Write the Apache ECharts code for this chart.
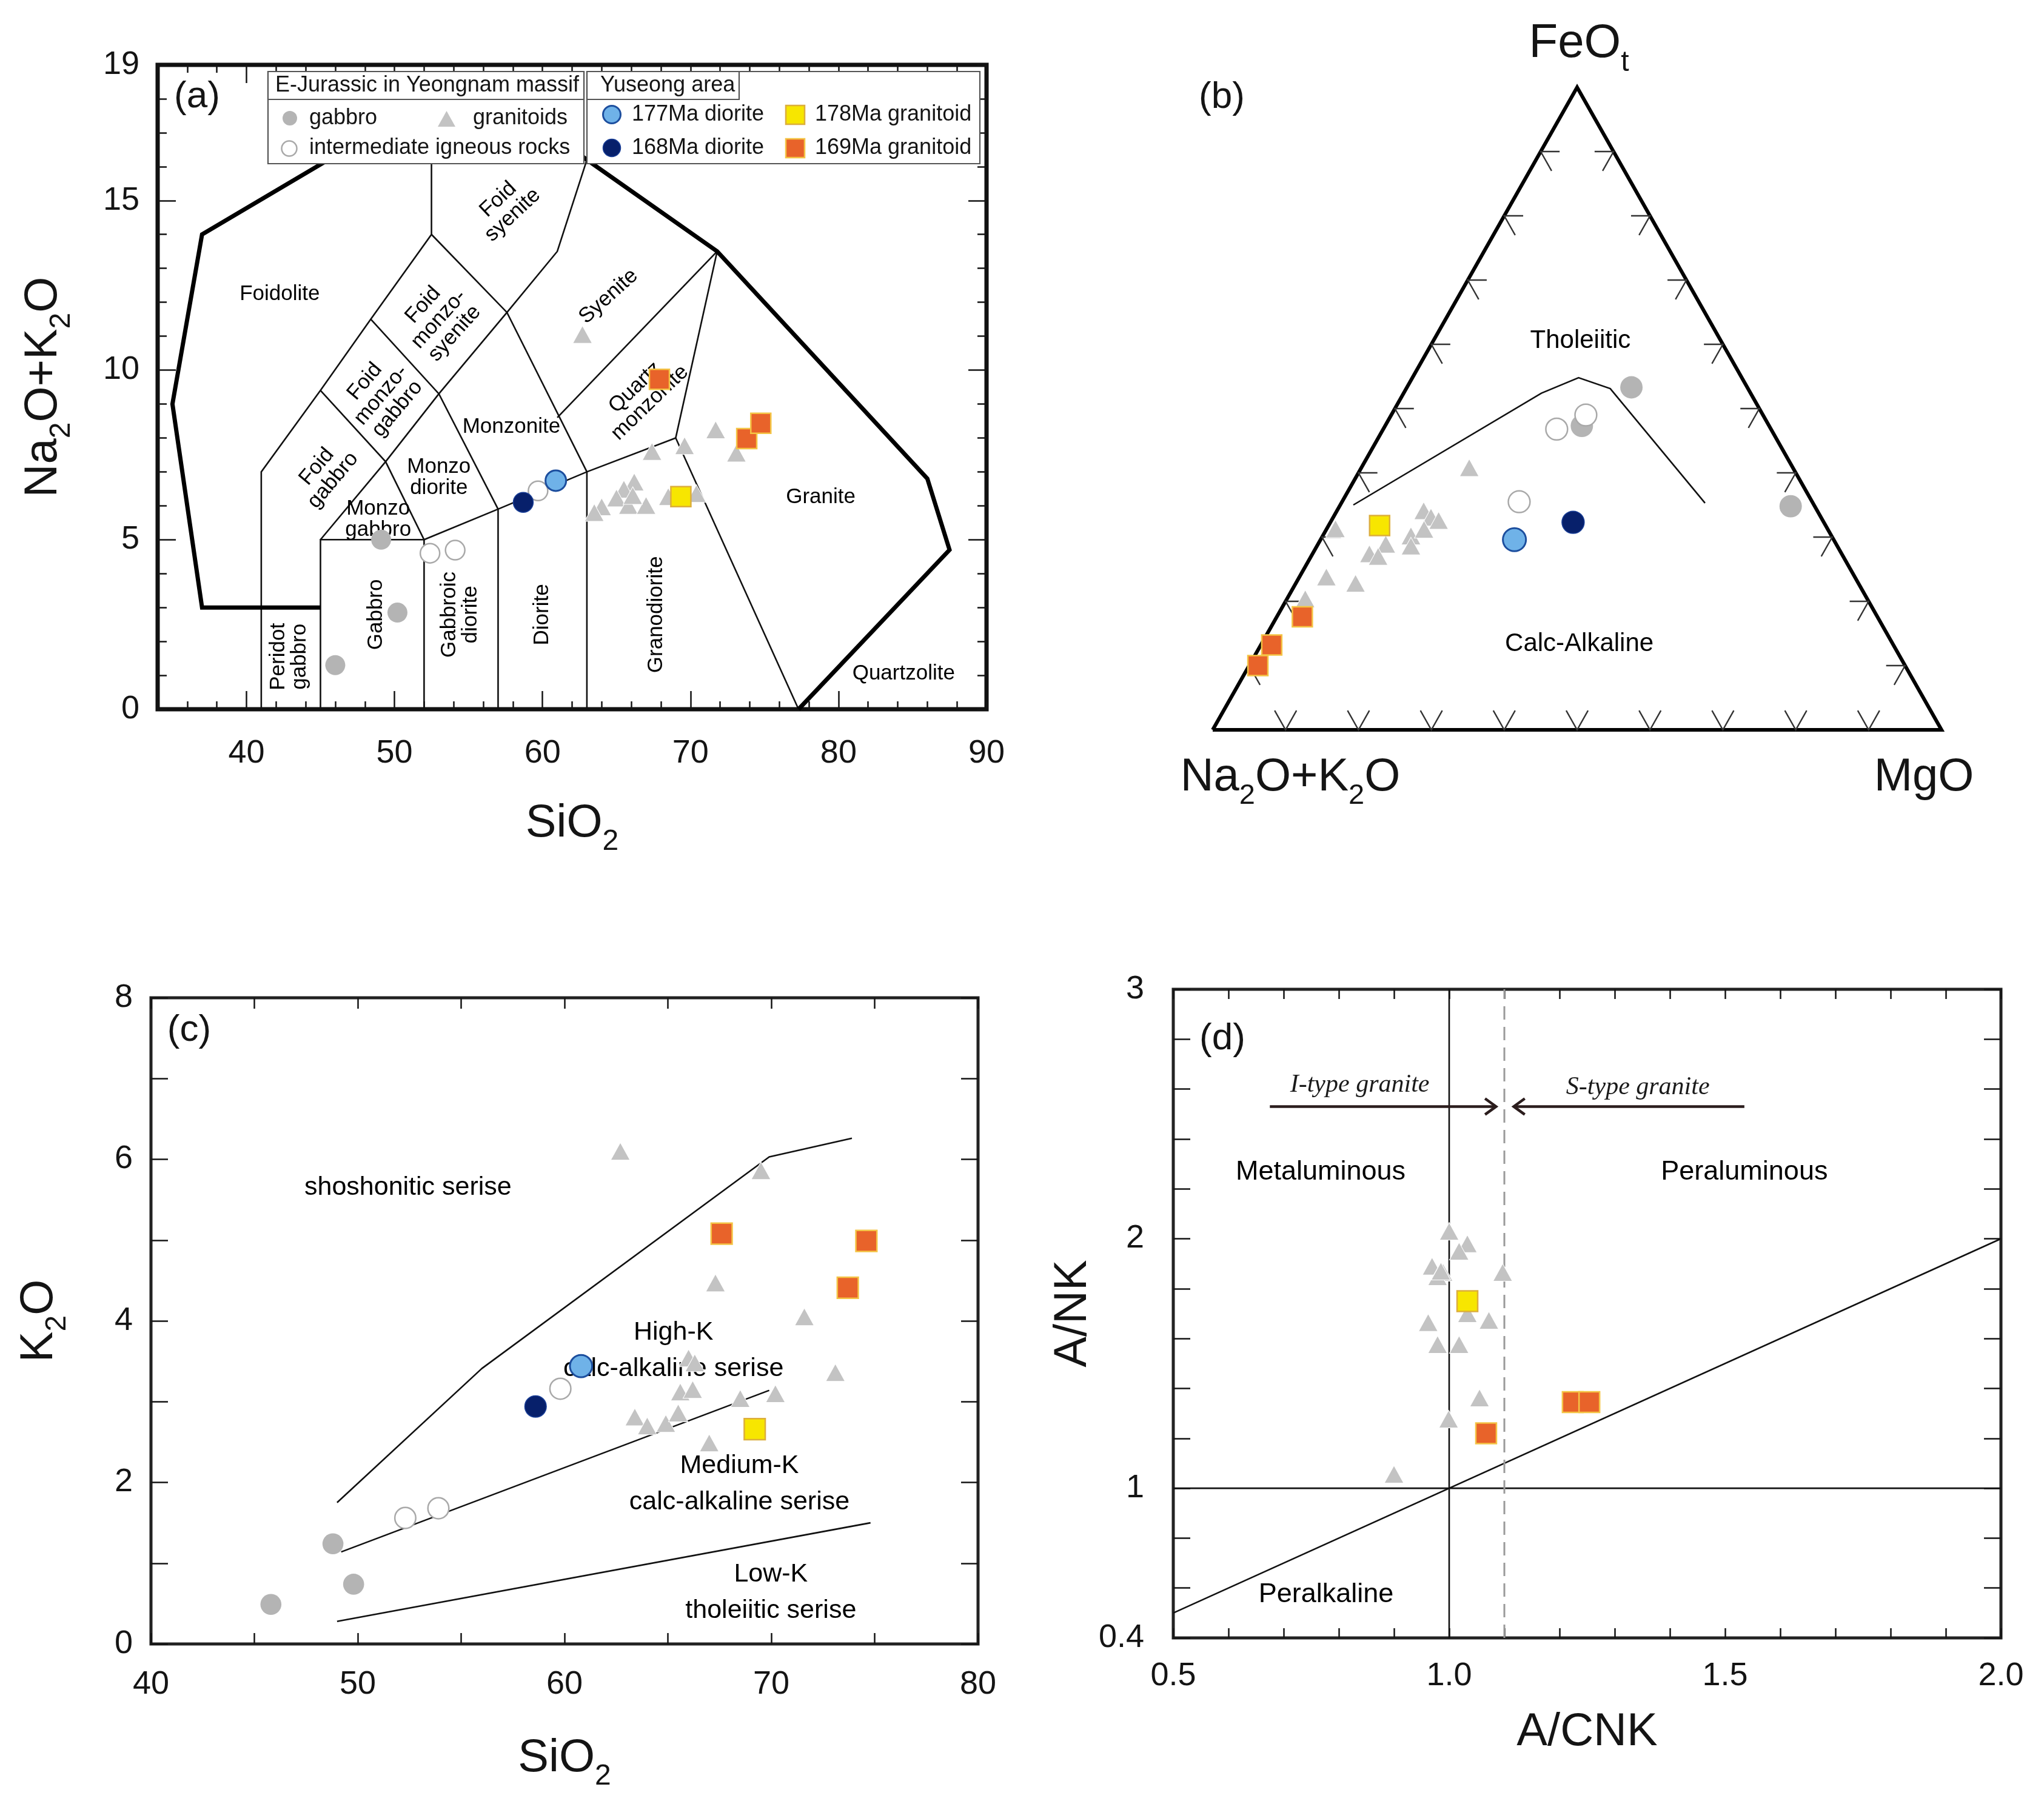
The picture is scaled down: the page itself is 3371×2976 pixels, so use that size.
<!DOCTYPE html>
<html><head><meta charset="utf-8">
<script src="https://cdn.jsdelivr.net/npm/echarts@6/dist/echarts.min.js"></script>
<style>html,body{margin:0;padding:0;background:#fff}#chart{width:3371px;height:2976px}</style>
</head><body><div id="chart"></div>
<script>
const FONT = 'Liberation Sans, Arial, Helvetica, sans-serif';
const SERIF = 'Liberation Serif, Times New Roman, serif';
const INK = '#141414';

// ---------- (a) TAS: [SiO2, Na2O+K2O]
const tasGabbro = [[49.1,5.0],[50.2,2.85],[46.0,1.3]];
const tasIntermediate = [[52.4,4.6],[54.1,4.69],[59.7,6.44]];
const tasGranitoids = [[62.7,11.05],[71.7,8.24],[69.6,7.77],[67.4,7.6],[73.1,7.55],[66.2,6.7],[65.5,6.49],[65.0,6.23],[65.8,6.01],[67.0,6.01],[64.0,5.97],[63.5,5.8],[70.4,6.36],[68.5,6.27],[66.1,6.3]];
const tasDiorite177 = [[60.9,6.74]];
const tasDiorite168 = [[58.7,6.1]];
const tasGranitoid178 = [[69.35,6.27]];
const tasGranitoid169 = [[67.9,9.73],[73.8,7.98],[74.75,8.43]];
const tasXLabels = [40,50,60,70,80,90];
const tasYLabels = [0,5,10,15,19];
const tasMajorX = [40,50,60,70,80];
const tasMajorY = [5,10,15];
// field boundaries (Middlemost 1994)
const tasThinLines = [
  [[41,0],[41,7],[45,9.4],[48.4,11.5],[52.5,14],[52.5,18]],
  [[45,0],[45,5],[52,5],[52,0]],
  [[45,5],[49.4,7.3],[53,9.3],[57.6,11.7],[61,13.5],[63,16.2]],
  [[45,9.4],[49.4,7.3],[52,5],[57,5.9],[63,7],[69,8]],
  [[48.4,11.5],[53,9.3],[57,5.9],[57,0]],
  [[52.5,14],[57.6,11.7],[63,7],[63,0]],
  [[61,8.6],[71.8,13.5]],
  [[71.8,13.5],[69,8],[77.3,0]]
];
const tasOutline = [
  [[45,3],[37,3],[35,9],[37,14],[52.5,18],[57.6,18],[63,16.2],[71.8,13.5],[86,6.8],[87.5,4.7],[77.3,0]]
];
const tasFieldLabels = [
  ['Foidolite',42.25,12.24,0],
  ['Foid\nsyenite',57.5,14.8,43],
  ['Foid\nmonzo-\nsyenite',53.0,11.5,48],
  ['Foid\nmonzo-\ngabbro',49.1,9.26,50],
  ['Foid\ngabbro',45.3,6.95,50],
  ['Monzo\ngabbro',48.9,5.6,0],
  ['Monzo\ndiorite',53.0,6.83,0],
  ['Monzonite',57.9,8.32,0],
  ['Syenite',64.46,12.17,42],
  ['Quartz\nmonzonite',66.76,9.26,44],
  ['Granite',78.8,6.25,0],
  ['Quartzolite',84.4,1.04,0],
  ['Peridot\ngabbro',42.9,1.55,90],
  ['Gabbro',48.77,2.79,90],
  ['Gabbroic\ndiorite',54.44,2.79,90],
  ['Diorite',60.0,2.79,90],
  ['Granodiorite',67.7,2.79,90]
];

// ---------- (b) AFM ternary: [Na2O+K2O, FeOt, MgO] (%)
const afmGabbro = [[15.9,53.3,30.8],[25.7,47.3,27.0],[3.3,34.8,61.9]];
const afmIntermediate = [[29.4,46.8,23.8],[24.3,49.0,26.7],[40.2,35.5,24.3]];
const afmGranitoids = [[44.4,40.8,14.8],[67.5,31.3,1.2],[54.0,34.1,11.9],[53.5,33.1,13.4],[52.7,32.6,14.7],[57.7,30.2,12.1],[55.4,31.2,13.4],[61.8,28.9,9.3],[64.8,27.4,7.8],[63.8,27.0,9.2],[58.5,28.6,12.9],[72.5,23.8,3.7],[69.0,22.8,8.2],[77.1,20.4,2.5]];
const afmDiorite177 = [[43.8,29.6,26.6]];
const afmDiorite168 = [[34.4,32.3,33.3]];
const afmGranitoid178 = [[61.2,31.8,7.0]];
const afmGranitoid169 = [[78.9,17.6,3.5],[85.3,13.2,1.5],[88.8,10.0,1.2]];
const afmBoundary = [[63.2,35.0,1.8],[28.7,52.4,18.9],[22.4,54.8,22.8],[18.9,53.1,28.0],[14.8,35.3,49.9]];
const afmTickSteps = [10,20,30,40,50,60,70,80,90];
const afmFieldLabels = [['Tholeiitic',[19.3,60.5,20.2]],['Calc-Alkaline',[43.0,13.4,43.6]]];

// ---------- (c) K2O vs SiO2
const kGabbro = [[45.8,0.49],[48.8,1.24],[49.8,0.74]];
const kIntermediate = [[52.3,1.56],[53.9,1.68],[59.8,3.16]];
const kGranitoids = [[62.7,6.10],[69.5,5.86],[67.3,4.47],[71.6,4.05],[66.0,3.54],[66.3,3.48],[73.1,3.36],[65.6,3.12],[66.2,3.15],[68.5,3.04],[70.2,3.10],[63.4,2.81],[64.0,2.70],[64.9,2.73],[65.5,2.86],[67.0,2.49]];
const kDiorite177 = [[60.8,3.44]];
const kDiorite168 = [[58.6,2.94]];
const kGranitoid178 = [[69.2,2.66]];
const kGranitoid169 = [[67.6,5.08],[74.6,4.99],[73.7,4.41]];
const kShoshoniteLine = [[49.0,1.75],[56.0,3.41],[69.9,6.03],[73.9,6.26]];
const kHighKLine = [[49.2,1.14],[69.9,3.14]];
const kLowKLine = [[49.0,0.28],[74.8,1.5]];
const kFieldLabels = [['shoshonitic serise',52.43,5.65],['High-K\ncalc-alkaline serise',65.27,3.63],['Medium-K\ncalc-alkaline serise',68.46,1.98],['Low-K\ntholeiitic serise',69.98,0.64]];

// ---------- (d) A/NK vs A/CNK
const aGranitoids = [[1.0,2.03],[1.033,1.98],[1.018,1.95],[0.969,1.89],[0.989,1.865],[0.979,1.848],[0.985,1.87],[1.097,1.865],[1.033,1.70],[0.962,1.664],[1.072,1.673],[0.979,1.576],[1.018,1.576],[1.055,1.362],[0.999,1.277],[0.900,1.056]];
const aGranitoid178 = [[1.033,1.75]];
const aGranitoid169 = [[1.067,1.22],[1.224,1.345],[1.254,1.345]];
const acnkDivider = [[1.0,0.4],[1.0,3.0]];
const ankDivider = [[0.5,1.0],[2.0,1.0]];
const peralkalineLine = [[0.5,0.5],[2.0,2.0]];
const isTypeDivider = [[1.1,0.4],[1.1,3.0]];
const iTypeArrow = [[0.675,2.53],[1.085,2.53]];
const sTypeArrow = [[1.535,2.53],[1.117,2.53]];
const aFieldLabels = [['Metaluminous',0.767,2.266],['Peraluminous',1.535,2.266],['Peralkaline',0.777,0.573]];
const aTypeLabels = [['I-type granite',0.838,2.616],['S-type granite',1.342,2.607]];

// ---------- styles
const ST = {
  gabbro: {symbol:'circle', size:33, itemStyle:{color:'#b4b4b4', opacity:1}},
  intermediate: {symbol:'circle', size:32, itemStyle:{color:'#ffffff', borderColor:'#a9a9a9', borderWidth:2.5, opacity:1}},
  granitoids: {symbol:'triangle', size:[32,29], itemStyle:{color:'#c3c3c3', borderColor:'#ffffff', borderWidth:1, opacity:1}},
  d177: {symbol:'circle', size:34, itemStyle:{color:'#6fb2e8', borderColor:'#1c4e9e', borderWidth:3, opacity:1}},
  d168: {symbol:'circle', size:33, itemStyle:{color:'#07206b', borderColor:'#1a3f98', borderWidth:1.5, opacity:1}},
  g178: {symbol:'rect', size:33, itemStyle:{color:'#f7e600', borderColor:'#dcae3c', borderWidth:2.5, opacity:1}},
  g169: {symbol:'rect', size:33, itemStyle:{color:'#e8632a', borderColor:'#f4c445', borderWidth:2.5, opacity:1}}
};
const NAMES = {gabbro:'gabbro', intermediate:'intermediate igneous rocks', granitoids:'granitoids', d177:'177Ma diorite', d168:'168Ma diorite', g178:'178Ma granitoid', g169:'169Ma granitoid'};

function ter(p){ const s=p[0]+p[1]+p[2]; const f=p[1]/s, m=p[2]/s; return [m+f/2, f]; }

function scat(key, ax, data, scale, z){
  const st = ST[key];
  let size = st.size;
  if (scale) size = Array.isArray(size) ? size.map(v=>v*scale) : size*scale;
  return {type:'scatter', name:NAMES[key], xAxisIndex:ax, yAxisIndex:ax, data:data, symbol:st.symbol, symbolSize:size,
    itemStyle:st.itemStyle, z:z, silent:true, emphasis:{disabled:true}};
}
function poly(name, ax, lines, width, color, z, dash){
  return {type:'custom', name:name, xAxisIndex:ax, yAxisIndex:ax, silent:true, z:z||2,
    data: lines.map((l,i)=>[l[0][0], l[0][1], i]),
    renderItem: function(params, api){
      const pts = lines[params.dataIndex].map(p=>api.coord(p));
      return {type:'polyline', shape:{points:pts}, style:{stroke:color, lineWidth:width, fill:'none', lineDash:dash||null, lineJoin:'miter'}};
    }};
}
function labels(name, ax, items, font, lh, extra){
  return {type:'scatter', name:name, xAxisIndex:ax, yAxisIndex:ax, symbolSize:2, itemStyle:{color:'rgba(255,255,255,0)', opacity:1}, silent:true, z:3,
    emphasis:{disabled:true},
    data: items.map(it=>({value:[it[1],it[2]], t:it[0], label:{rotate:it[3]||0}})),
    label: Object.assign({show:true, position:'inside', formatter:p=>p.data.t, fontSize:font, lineHeight:lh, color:'#000', fontFamily:FONT, align:'center', verticalAlign:'middle', textBorderWidth:0}, extra||{})
  };
}
function lineS(ax, data, width, color, type){
  return {type:'line', xAxisIndex:ax, yAxisIndex:ax, data:data, symbol:'none', silent:true, z:2,
    lineStyle:{width:width, color:color, type:type||'solid'}};
}

// ternary frame, ticks, boundary
const triFrame = [[[0,0],[1,0],[0.5,1],[0,0]]];
const triTicks = [];
afmTickSteps.forEach(v=>{
  const f = v/100;
  triTicks.push([[f/2+0.026,f],[f/2,f],[f/2+0.015,f-0.03]]);
  triTicks.push([[1-f/2-0.026,f],[1-f/2,f],[1-f/2-0.015,f-0.03]]);
  triTicks.push([[f-0.015,0.03],[f,0],[f+0.015,0.03]]);
});
const afmBoundaryXY = [afmBoundary.map(ter)];

// arrows in (d)
function arrowHead(a){
  const p0=a[0], p1=a[1], s=Math.sign(p1[0]-p0[0]);
  return [[p1[0]-s*0.02,p1[1]+0.032],[p1[0],p1[1]],[p1[0]-s*0.02,p1[1]-0.032]];
}

const titleStyle = {fontSize:76, color:INK, fontFamily:FONT,
  rich:{s:{fontSize:48, color:INK, fontFamily:FONT, verticalAlign:'bottom', lineHeight:108}}};

function baseAxis(o){
  return Object.assign({type:'value', splitLine:{show:false}, axisLine:{show:false, onZero:false},
    axisLabel:{show:false}, axisTick:{show:false}}, o);
}
function tick(len, extra){ return Object.assign({show:true, inside:true, length:len, lineStyle:{color:INK, width:2.5}}, extra||{}); }
function lab(margin, fmt){ return {show:true, margin:margin, fontSize:54, color:INK, fontFamily:FONT, formatter:fmt}; }
const near = (a,b)=>Math.abs(a-b)<1e-6;

const xAxis = [
  baseAxis({gridIndex:0, min:34, max:90, interval:2, position:'bottom', axisTick:tick(13), axisLabel:lab(46, v=>tasXLabels.includes(v)?String(v):''),
    name:'SiO{s|2}', nameLocation:'middle', nameGap:135, nameTextStyle:titleStyle}),
  baseAxis({gridIndex:0, min:34, max:90, position:'bottom', axisTick:tick(30,{customValues:tasMajorX})}),
  baseAxis({gridIndex:0, min:34, max:90, interval:2, position:'top', axisTick:tick(13)}),
  baseAxis({gridIndex:0, min:34, max:90, position:'top', axisTick:tick(30,{customValues:tasMajorX})}),
  baseAxis({gridIndex:1, min:0, max:1, show:false}),
  baseAxis({gridIndex:2, min:40, max:80, interval:5, position:'bottom', axisTick:tick(18), axisLabel:lab(40, v=>v%10===0?String(v):''),
    name:'SiO{s|2}', nameLocation:'middle', nameGap:135, nameTextStyle:titleStyle}),
  baseAxis({gridIndex:2, min:40, max:80, interval:5, position:'top', axisTick:tick(18)}),
  baseAxis({gridIndex:3, min:0.5, max:2.0, interval:0.1, position:'bottom', axisTick:tick(16),
    axisLabel:lab(36, v=>{const r=Math.round(v*100)/100; return near(r*2,Math.round(r*2))?r.toFixed(1):'';}),
    name:'A/CNK', nameLocation:'middle', nameGap:118, nameTextStyle:titleStyle}),
  baseAxis({gridIndex:3, min:0.5, max:2.0, interval:0.1, position:'top', axisTick:tick(16)})
];
const yAxis = [
  baseAxis({gridIndex:0, min:0, max:19, interval:1, position:'left', axisTick:tick(15), axisLabel:lab(30, v=>tasYLabels.includes(v)?String(v):''),
    name:'Na{s|2}O+K{s|2}O', nameLocation:'middle', nameGap:134, nameRotate:90, nameTextStyle:titleStyle}),
  baseAxis({gridIndex:0, min:0, max:19, position:'left', axisTick:tick(30,{customValues:tasMajorY})}),
  baseAxis({gridIndex:0, min:0, max:19, interval:1, position:'right', axisTick:tick(15)}),
  baseAxis({gridIndex:0, min:0, max:19, position:'right', axisTick:tick(30,{customValues:tasMajorY})}),
  baseAxis({gridIndex:1, min:0, max:1, show:false}),
  baseAxis({gridIndex:2, min:0, max:8, interval:1, position:'left', axisTick:tick(28), axisLabel:lab(30, v=>v%2===0?String(v):''),
    name:'K{s|2}O', nameLocation:'middle', nameGap:130, nameRotate:90, nameTextStyle:titleStyle}),
  baseAxis({gridIndex:2, min:0, max:8, interval:1, position:'right', axisTick:tick(28)}),
  baseAxis({gridIndex:3, min:0.4, max:3.0, interval:0.2, position:'left', axisTick:tick(28),
    axisLabel:lab(48, v=>{const r=Math.round(v*100)/100; if(near(r,0.4)) return '0.4'; return near(r,Math.round(r))?String(Math.round(r)):'';}),
    name:'A/NK', nameLocation:'middle', nameGap:108, nameRotate:90, nameTextStyle:titleStyle}),
  baseAxis({gridIndex:3, min:0.4, max:3.0, interval:0.2, position:'right', axisTick:tick(28)})
];

const series = [
  // (a)
  poly('tas-fields', 0, tasThinLines, 2.6, '#111', 2),
  poly('tas-outline', 0, tasOutline, 7, '#000', 2),
  labels('tas-labels', 0, tasFieldLabels, 35, 35),
  scat('gabbro',0,tasGabbro,1,4), scat('intermediate',0,tasIntermediate,1,4), scat('granitoids',0,tasGranitoids,1,4),
  scat('d168',0,tasDiorite168,1,5), scat('d177',0,tasDiorite177,1,5), scat('g178',0,tasGranitoid178,1,5), scat('g169',0,tasGranitoid169,1,5),
  // (b)
  poly('afm-frame', 4, triFrame, 6, '#000', 2),
  poly('afm-ticks', 4, triTicks, 2.4, '#333', 2),
  poly('afm-boundary', 4, afmBoundaryXY, 2.6, '#111', 2),
  labels('afm-labels', 4, afmFieldLabels.map(l=>{const c=ter(l[1]); return [l[0],c[0],c[1]];}), 42, 46),
  scat('gabbro',4,afmGabbro.map(ter),1.12,4), scat('intermediate',4,afmIntermediate.map(ter),1.12,4), scat('granitoids',4,afmGranitoids.map(ter),1,4),
  scat('d168',4,afmDiorite168.map(ter),1.12,5), scat('d177',4,afmDiorite177.map(ter),1.12,5), scat('g178',4,afmGranitoid178.map(ter),1,5), scat('g169',4,afmGranitoid169.map(ter),1,5),
  // (c)
  lineS(5, kShoshoniteLine, 2.6, '#111'), lineS(5, kHighKLine, 2.6, '#111'), lineS(5, kLowKLine, 2.6, '#111'),
  labels('k-labels', 5, kFieldLabels, 43, 60),
  scat('gabbro',5,kGabbro,1.05,4), scat('intermediate',5,kIntermediate,1.08,4), scat('granitoids',5,kGranitoids,1,4),
  scat('d168',5,kDiorite168,1.08,5), scat('d177',5,kDiorite177,1.08,5), scat('g178',5,kGranitoid178,1.05,5), scat('g169',5,kGranitoid169,1.05,5),
  // (d)
  lineS(7, acnkDivider, 2.6, '#111'), lineS(7, ankDivider, 2.6, '#111'), lineS(7, peralkalineLine, 2.6, '#111'),
  lineS(7, isTypeDivider, 3, '#9a9a9a', [22,12]),
  poly('arrows', 7, [iTypeArrow, sTypeArrow], 4.5, '#2b1d1d', 3),
  poly('arrowheads', 7, [arrowHead(iTypeArrow), arrowHead(sTypeArrow)], 4.5, '#2b1d1d', 3),
  labels('a-labels', 7, aFieldLabels, 45, 50),
  labels('a-type-labels', 7, aTypeLabels, 42, 46, {fontFamily:SERIF, fontStyle:'italic', color:'#1a1a1a'}),
  scat('granitoids',7,aGranitoids,1,4), scat('g178',7,aGranitoid178,1.03,5), scat('g169',7,aGranitoid169,1.03,5)
];

function txt(x,y,text,size,extra){
  return Object.assign({type:'text', z:102, x:x, y:y, style:{text:text, fontSize:size, fontFamily:FONT, fill:INK,
    textAlign:(extra&&extra.align)||'left', textVerticalAlign:'middle', align:(extra&&extra.align)||'left', verticalAlign:'middle',
    rich:{s:{fontSize:Math.round(size*0.62), fontFamily:FONT, fill:INK, verticalAlign:'bottom', lineHeight:Math.round(size*1.42)}}}}, extra&&extra.el||{});
}
const legendFont = 36;
const graphic = [
  {type:'rect', z:100, shape:{x:442,y:118,width:521,height:152}, style:{fill:'#fff', stroke:'#555', lineWidth:2.2}},
  {type:'rect', z:101, shape:{x:442,y:118,width:521,height:46}, style:{fill:'#fff', stroke:'#555', lineWidth:2.2}},
  txt(454,141,'E-Jurassic in Yeongnam massif',legendFont),
  {type:'circle', z:102, shape:{cx:478,cy:195,r:12}, style:{fill:'#b4b4b4'}},
  txt(510,195,'gabbro',legendFont),
  {type:'polygon', z:102, shape:{points:[[736.5,183],[751,209],[722,209]]}, style:{fill:'#c3c3c3'}},
  txt(780,195,'granitoids',legendFont),
  {type:'circle', z:102, shape:{cx:477,cy:245,r:12.5}, style:{fill:'#fff', stroke:'#a9a9a9', lineWidth:2.5}},
  txt(510,244,'intermediate igneous rocks',legendFont),

  {type:'rect', z:100, shape:{x:968,y:118,width:648,height:152}, style:{fill:'#fff', stroke:'#555', lineWidth:2.2}},
  {type:'rect', z:101, shape:{x:968,y:118,width:251,height:46}, style:{fill:'#fff', stroke:'#555', lineWidth:2.2}},
  txt(990,141,'Yuseong area',legendFont),
  {type:'circle', z:102, shape:{cx:1009,cy:189,r:14.5}, style:{fill:'#6fb2e8', stroke:'#1c4e9e', lineWidth:3}},
  txt(1042,189,'177Ma diorite',legendFont),
  {type:'rect', z:102, shape:{x:1296,y:174,width:31,height:31}, style:{fill:'#f7e600', stroke:'#dcae3c', lineWidth:2.5}},
  txt(1344,189,'178Ma granitoid',legendFont),
  {type:'circle', z:102, shape:{cx:1009,cy:244,r:14.5}, style:{fill:'#07206b', stroke:'#1a3f98', lineWidth:1.5}},
  txt(1042,244,'168Ma diorite',legendFont),
  {type:'rect', z:102, shape:{x:1296,y:229,width:31,height:31}, style:{fill:'#e8632a', stroke:'#f4c445', lineWidth:2.5}},
  txt(1344,244,'169Ma granitoid',legendFont),

  // panel letters
  txt(325,160,'(a)',62,{align:'center'}),
  txt(2015,161,'(b)',62,{align:'center'}),
  txt(312,1700,'(c)',62,{align:'center'}),
  txt(2016,1714,'(d)',62,{align:'center'}),
  // ternary apex labels
  txt(2604,72,'FeO{s|t}',78,{align:'center'}),
  txt(2128,1283,'Na{s|2}O+K{s|2}O',76,{align:'center'}),
  txt(3173,1283,'MgO',76,{align:'center'})
];

const option = {
  animation:false,
  backgroundColor:'#ffffff',
  textStyle:{fontFamily:FONT},
  grid:[
    {left:260, top:107, width:1367, height:1063, show:true, borderColor:'#111', borderWidth:7, backgroundColor:'rgba(0,0,0,0)'},
    {left:2000, top:144, width:1202, height:1060, show:false},
    {left:249, top:1646, width:1364, height:1066, show:true, borderColor:'#222', borderWidth:5, backgroundColor:'rgba(0,0,0,0)'},
    {left:1935, top:1632, width:1365, height:1070, show:true, borderColor:'#222', borderWidth:5, backgroundColor:'rgba(0,0,0,0)'}
  ],
  xAxis:xAxis, yAxis:yAxis, series:series,
  graphic:{elements:graphic}
};
const chart = echarts.init(document.getElementById('chart'), null, {renderer:'canvas'});
chart.setOption(option);
</script></body></html>
